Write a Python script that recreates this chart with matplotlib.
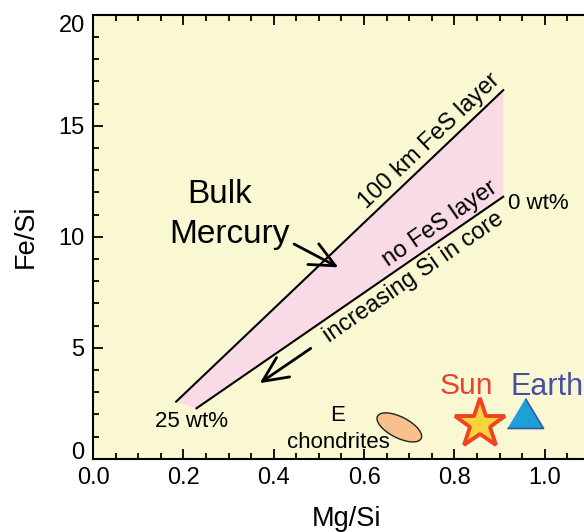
import numpy as np
import matplotlib
matplotlib.use("Agg")
import matplotlib.pyplot as plt
from matplotlib.patches import Polygon, Ellipse
from matplotlib.ticker import MultipleLocator
import matplotlib.transforms as mtransforms

plt.rcParams['font.family'] = ['Liberation Sans', 'DejaVu Sans']

# Mercury composition band (Mg/Si, Fe/Si)
upper_x = [0.184, 0.908]     # 100 km FeS layer
upper_y = [2.57, 16.6]
lower_x = [0.229, 0.908]     # no FeS layer
lower_y = [2.27, 11.8]

# arrows (tail -> head)
mercury_arrow = [(0.445, 9.67), (0.543, 8.62)]
si_arrow = [(0.482, 4.97), (0.369, 3.40)]

# reference bodies
echond_xy = (0.678, 1.41)
sun_xy = (0.857, 1.56)
earth_xy = (0.957, 2.05)

bg = '#faf8d3'
pink = '#f9dbe7'

fig = plt.figure(figsize=(5.84, 5.32), dpi=100)
ax = fig.add_axes([93 / 584, (532 - 458.7) / 532, 506 / 584, 444 / 532])
ax.set_facecolor(bg)
ax.set_xlim(0, 1.12)
ax.set_ylim(0, 20)

band = Polygon([(upper_x[0], upper_y[0]), (upper_x[1], upper_y[1]),
                (lower_x[1], lower_y[1]), (lower_x[0], lower_y[0])],
               closed=True, facecolor=pink, edgecolor='none', zorder=1)
ax.add_patch(band)
ax.plot(upper_x, upper_y, color='black', lw=1.5, zorder=2)
ax.plot(lower_x, lower_y, color='black', lw=1.5, zorder=2)


def line_angle(xs, ys):
    p = ax.transData.transform(np.column_stack([xs, ys]))
    return np.degrees(np.arctan2(p[1, 1] - p[0, 1], p[1, 0] - p[0, 0]))


def on_line(xs, ys, x):
    return ys[0] + (x - xs[0]) * (ys[1] - ys[0]) / (xs[1] - xs[0])


a_up = line_angle(upper_x, upper_y)
a_lo = line_angle(lower_x, lower_y)


def along(text, xs, ys, x, dist, ang, **kw):
    y = on_line(xs, ys, x)
    r = np.radians(ang)
    off = (-np.sin(r) * dist, np.cos(r) * dist)
    ax.annotate(text, (x, y), xytext=off, textcoords='offset points',
                rotation=ang, rotation_mode='anchor', ha='center', va='center',
                fontsize=17, zorder=4)


along('100 km FeS layer', upper_x, upper_y, 0.767, 10, a_up)
along('no FeS layer', lower_x, lower_y, 0.785, 10, a_lo)
along('increasing Si in core', lower_x, lower_y, 0.69, -11, a_lo)

ax.text(0.918, 11.23, '0 wt%', fontsize=16, ha='left', va='baseline')
ax.text(0.219, 1.44, '25 wt%', fontsize=16, ha='center', va='baseline')
ax.text(0.281, 11.5, 'Bulk', fontsize=24, ha='center', va='baseline')
ax.text(0.303, 9.70, 'Mercury', fontsize=24, ha='center', va='baseline')
ax.text(0.541, 1.70, 'E', fontsize=16, ha='center', va='baseline')
ax.text(0.543, 0.47, 'chondrites', fontsize=16, ha='center', va='baseline')
ax.text(0.827, 2.91, 'Sun', fontsize=21.5, color='#e8432e', ha='center', va='baseline')
ax.text(0.924, 2.87, 'Earth', fontsize=22, color='#4550a0', ha='left', va='baseline')

arrow_kw = dict(arrowstyle='->,head_length=0.9,head_width=0.42', lw=2,
                color='black', mutation_scale=20, shrinkA=0, shrinkB=0)
for tail, head in [mercury_arrow, si_arrow]:
    ax.annotate('', xy=head, xytext=tail, arrowprops=arrow_kw, zorder=5)

# E chondrite ellipse, drawn in inches around its data position
ell = Ellipse((0, 0), 0.49, 0.21, angle=-27, facecolor='#f8c08c',
              edgecolor='#222222', lw=1,
              transform=fig.dpi_scale_trans + mtransforms.ScaledTranslation(
                  echond_xy[0], echond_xy[1], ax.transData), zorder=3)
ax.add_patch(ell)

ax.plot(*sun_xy, marker='*', markersize=38, markerfacecolor='#fad43a',
        markeredgecolor='#ee4425', markeredgewidth=2.8, zorder=3)
tri = [(-1, -0.83), (1, -0.83), (0, 0.83)]
ax.plot(*earth_xy, marker=tri, markersize=26, markerfacecolor='#1e9fd8',
        markeredgecolor='#3b55a5', markeredgewidth=1.2, zorder=3)

ax.set_xticks(np.arange(0, 1.01, 0.2))
ax.xaxis.set_minor_locator(MultipleLocator(0.05))
ax.yaxis.set_major_locator(MultipleLocator(5))
ax.yaxis.set_minor_locator(MultipleLocator(1))
ax.set_xticklabels(['0.0', '0.2', '0.4', '0.6', '0.8', '1.0'])
ax.set_yticks([0, 5, 10, 15, 20])
ax.set_yticklabels(['0', '5', '10', '15', '20'])
ax.tick_params(which='both', direction='in', top=True, right=False, width=1.3)
ax.tick_params(which='major', length=7, labelsize=17, pad=6)
ax.tick_params(which='minor', length=4)
ax.spines['right'].set_visible(False)
for s in ['left', 'bottom', 'top']:
    ax.spines[s].set_linewidth(1.5)

# end labels of the y axis sit inside the axis range
ylabs = ax.get_yticklabels()
ylabs[0].set_verticalalignment('baseline')
ylabs[-1].set_verticalalignment('top')

ax.set_xlabel('Mg/Si', fontsize=19.5, labelpad=12)
ax.set_ylabel('Fe/Si', fontsize=19.5, labelpad=14)

fig.savefig('out.png', dpi=100)
